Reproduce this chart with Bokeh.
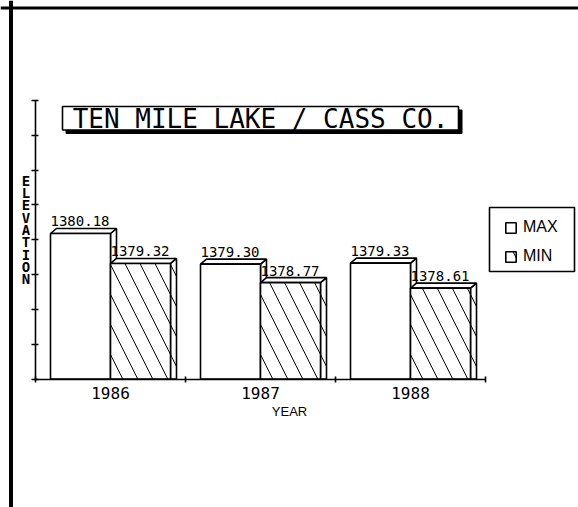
from bokeh.plotting import figure
from bokeh.models import ColumnDataSource, LinearAxis, FixedTicker, Span, Legend, LegendItem
from bokeh.core.properties import value
from bokeh.embed import file_html
from bokeh.resources import INLINE

# ---------------- data ----------------
YEARS = ["1986", "1987", "1988"]
MAX_ELEV = [1380.18, 1379.30, 1379.33]
MIN_ELEV = [1379.32, 1378.77, 1378.61]
Y_TICKS = [1376, 1377, 1378, 1379, 1380, 1381, 1382, 1383, 1384]
BASE = 1376
TITLE = "TEN MILE LAKE / CASS CO."
Y_LABEL = "ELEVATION"
X_LABEL = "YEAR"
SERIES = ["MAX", "MIN"]

# ---------------- layout helpers (canvas pixel -> data) ----------------
W, H = 578, 507
X0_PX, GROUP_PX = 35.0, 150.0
Y0_PX, UNIT_PX = 378.5, 34.81


def px_x(px):
    return (px - X0_PX) / GROUP_PX


def px_y(py):
    return BASE + (Y0_PX - py) / UNIT_PX


p = figure(width=W, height=H,
           x_range=(px_x(0), px_x(W)), y_range=(px_y(H), px_y(0)),
           x_axis_type=None, y_axis_type=None,
           output_backend="svg", toolbar_location=None, min_border=0)
p.outline_line_color = None
p.background_fill_color = "white"
p.border_fill_color = "white"

n = len(YEARS)
idx = list(range(n))
BAR_W = 0.4
DX = 6 / GROUP_PX
DY = 5 / UNIT_PX
HATCH = dict(hatch_pattern="\\", hatch_scale=30, hatch_weight=1, hatch_color="black")
LW = 1.6

max_left = [i + 0.5 - BAR_W for i in idx]
max_right = [i + 0.5 for i in idx]
min_left = [i + 0.5 for i in idx]
min_right = [i + 0.5 + BAR_W for i in idx]


def faces(lefts, rights, tops):
    top_xs = [[l, l + DX, r + DX, r] for l, r in zip(lefts, rights)]
    top_ys = [[t, t + DY, t + DY, t] for t in tops]
    side_xs = [[r, r + DX, r + DX, r] for r in rights]
    side_ys = [[t, t + DY, BASE, BASE] for t in tops]
    return top_xs, top_ys, side_xs, side_ys


# MAX bars
tx, ty, sx, sy = faces(max_left, max_right, MAX_ELEV)
p.patches(xs=sx, ys=sy, fill_color="white", line_color="black", line_width=LW)
p.patches(xs=tx, ys=ty, fill_color="white", line_color="black", line_width=LW)
max_r = p.quad(left=max_left, right=max_right, bottom=BASE, top=MAX_ELEV,
               fill_color="white", line_color="black", line_width=LW)

# MIN bars
tx, ty, sx, sy = faces(min_left, min_right, MIN_ELEV)
p.patches(xs=sx, ys=sy, fill_color="white", line_color="black", line_width=LW, **HATCH)
p.patches(xs=tx, ys=ty, fill_color="white", line_color="black", line_width=LW)
min_r = p.quad(left=min_left, right=min_right, bottom=BASE, top=MIN_ELEV,
               fill_color="white", line_color="black", line_width=LW, **HATCH)

# value labels
lab_src = ColumnDataSource(dict(
    x=max_left + min_left,
    y=MAX_ELEV + MIN_ELEV,
    t=[f"{v:.2f}" for v in MAX_ELEV + MIN_ELEV],
))
p.text(x="x", y="y", text="t", source=lab_src, text_font=value("DejaVu Sans Mono"),
       text_font_size="14px", text_color="black", text_baseline="alphabetic",
       text_align="left", y_offset=-12)

# axes
yaxis = LinearAxis(fixed_location=0, bounds=(Y_TICKS[0], Y_TICKS[-1]),
                   ticker=FixedTicker(ticks=Y_TICKS, minor_ticks=[]),
                   major_tick_in=3, major_tick_out=4,
                   axis_line_width=LW, major_tick_line_width=LW,
                   major_label_text_color=None)
p.add_layout(yaxis, "left")

xaxis = LinearAxis(fixed_location=BASE, bounds=(0, n),
                   ticker=FixedTicker(ticks=list(range(n + 1)), minor_ticks=[]),
                   major_tick_in=3, major_tick_out=3,
                   axis_line_width=LW, major_tick_line_width=LW,
                   major_label_text_color=None)
p.add_layout(xaxis, "below")

xlab = LinearAxis(fixed_location=BASE,
                  ticker=FixedTicker(ticks=[i + 0.5 for i in idx], minor_ticks=[]),
                  major_label_overrides={i + 0.5: y for i, y in zip(idx, YEARS)},
                  axis_line_color=None, major_tick_line_color=None, minor_tick_line_color=None,
                  major_label_standoff=2,
                  major_label_text_font="DejaVu Sans Mono", major_label_text_font_size="16px",
                  major_label_text_font_style="normal", major_label_text_color="black",
                  axis_label=X_LABEL, axis_label_text_font="Liberation Sans",
                  axis_label_text_font_size="13px", axis_label_text_font_style="normal",
                  axis_label_text_color="black", axis_label_standoff=1)
p.add_layout(xlab, "below")

# vertical stacked y label
p.text(x=[px_x(25.5)], y=[px_y(229.5)], text=["\n".join(Y_LABEL)],
       text_font=value("DejaVu Sans Mono"), text_font_size="14px", text_font_style="bold",
       text_align="center", text_baseline="middle", text_line_height=0.77, text_color="black")

# title box with drop shadow
p.quad(left=px_x(65.5), right=px_x(461.5), top=px_y(109.5), bottom=px_y(133),
       fill_color="black", line_color="black")
p.quad(left=px_x(62), right=px_x(458), top=px_y(106), bottom=px_y(129.5),
       fill_color="white", line_color="black", line_width=LW)
p.text(x=[px_x(260)], y=[px_y(118)], text=[TITLE], text_font=value("DejaVu Sans Mono"),
       text_font_size="26px", text_align="center", text_baseline="middle", text_color="black")

# legend box + legend
p.quad(left=px_x(489), right=px_x(574), top=px_y(207), bottom=px_y(271),
       fill_color="white", line_color="black", line_width=LW)
legend = Legend(items=[LegendItem(label=SERIES[0], renderers=[max_r]),
                       LegendItem(label=SERIES[1], renderers=[min_r])],
                location=(504, H - 266), padding=0, margin=0,
                border_line_color=None, background_fill_alpha=0,
                glyph_width=13, glyph_height=13, label_standoff=6, spacing=9,
                label_height=20, label_text_font="Liberation Sans",
                label_text_font_size="16px", label_text_color="black")
p.add_layout(legend)

# page frame lines
p.add_layout(Span(location=px_x(10.5), dimension="height", line_color="black", line_width=4))
p.add_layout(Span(location=px_y(7.5), dimension="width", line_color="black", line_width=3))

open("out.html", "w").write(file_html(p, INLINE))
